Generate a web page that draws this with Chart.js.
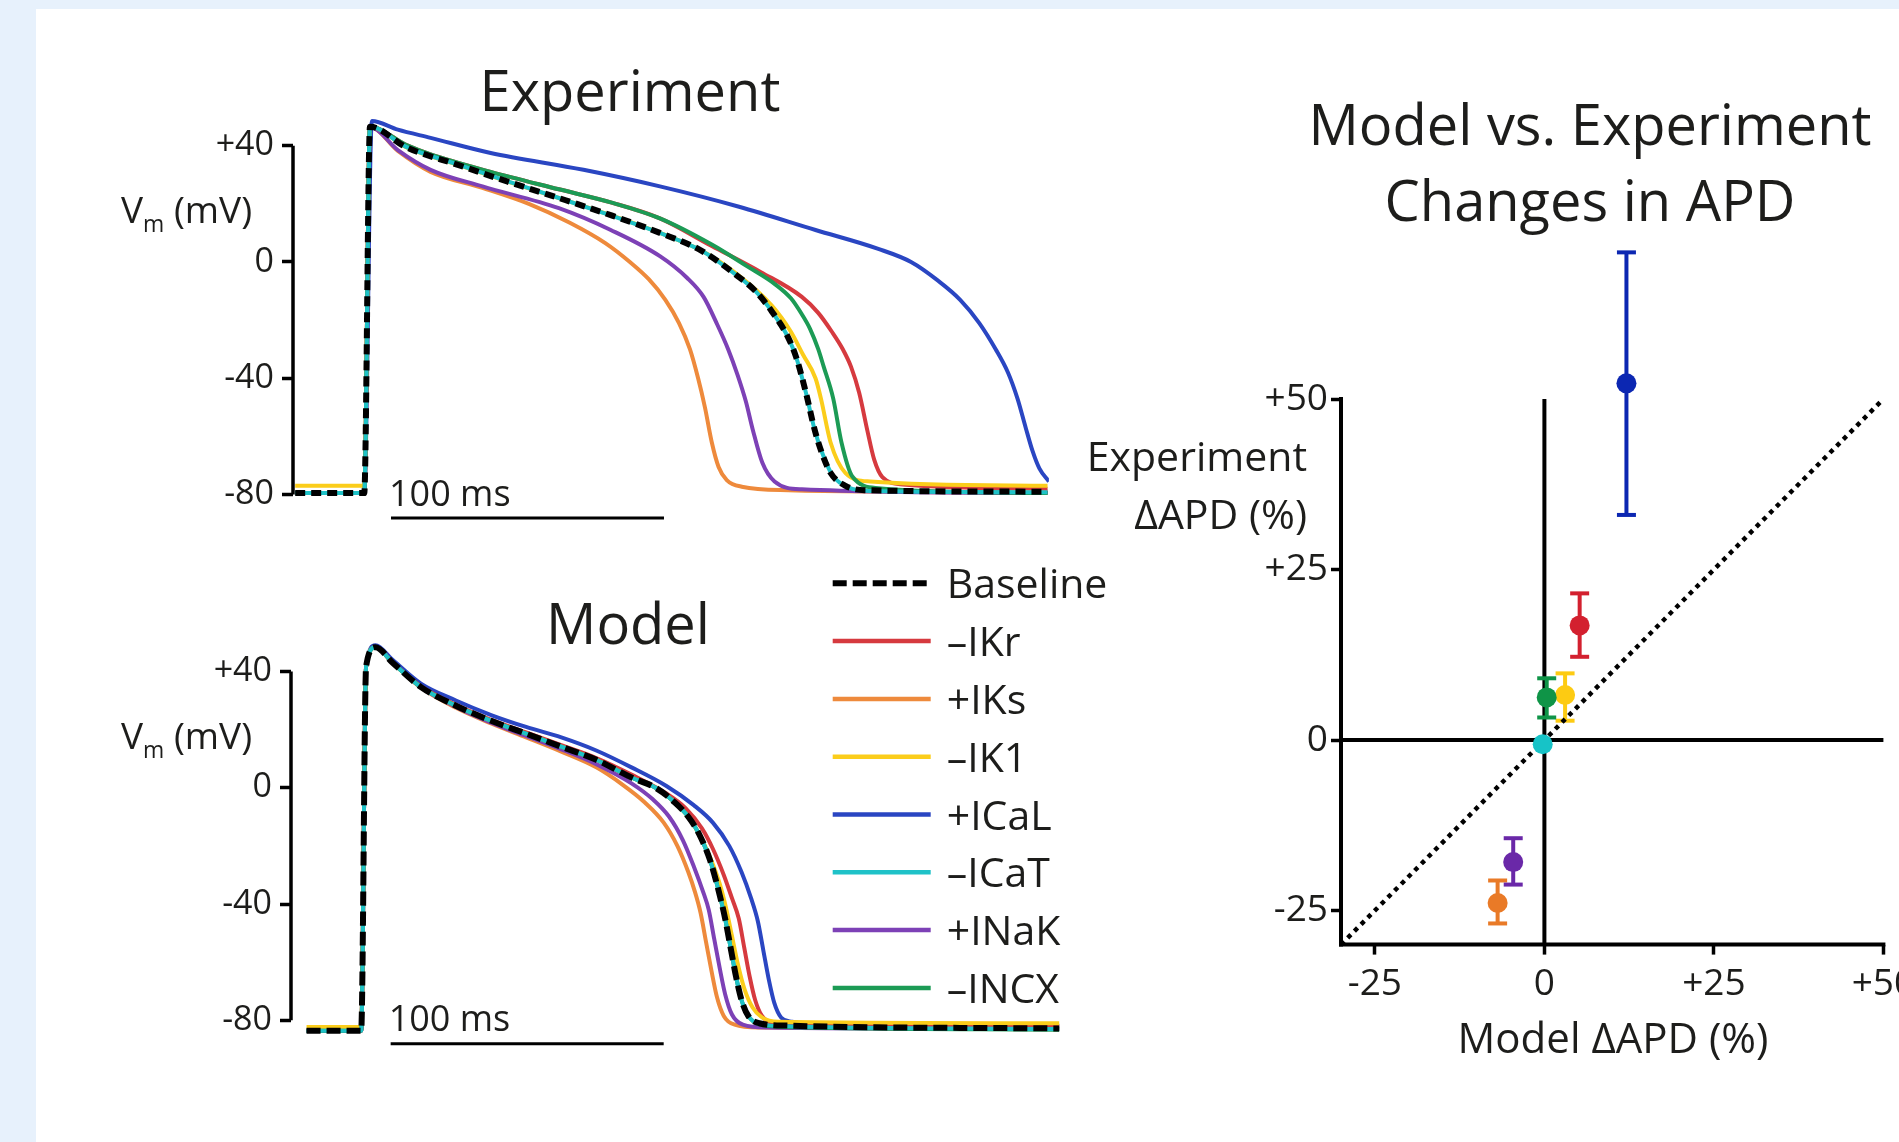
<!DOCTYPE html>
<html>
<head>
<meta charset="utf-8">
<script src="https://cdn.jsdelivr.net/npm/chart.js@4.4.0/dist/chart.umd.min.js"></script>
<style>
  html, body { margin: 0; padding: 0; width: 1899px; height: 1142px; overflow: hidden; background: #e7f1fc; }
  #panel { position: absolute; left: 36px; top: 9px; right: 0; bottom: 0; background: #fff; }
  canvas { position: absolute; }
  .lbl { position: absolute; white-space: nowrap; color: #1d1d1b; font-family: "Open Sans"; line-height: 1; }
  .sub { font-size: 0.62em; position: relative; top: 0.38em; }
</style>
</head>
<body>
<div id="panel"></div>
<canvas id="expChart" width="1100" height="560" style="left:0;top:0"></canvas>
<canvas id="modelChart" width="1150" height="540" style="left:0;top:560px"></canvas>
<canvas id="deltaChart" width="800" height="1142" style="left:1150px;top:0"></canvas>

<script>
// series (legend order)
const seriesNames = ['Baseline', '–IKr', '+IKs', '–IK1', '+ICaL', '–ICaT', '+INaK', '–INCX'];
const seriesColors = ['#000000', '#d63a3f', '#ee8a3c', '#fbcd1b', '#2a46c2', '#1fc2c8', '#7d41b6', '#1c9b55'];
const drawOrder = [0, 4, 6, 3, 7, 1, 5, 2];

// Experiment traces: [time ms from upstroke, Vm mV]
const expBaseline = [[-25.6,-79.5],[-0.3,-79.5],[1.8,46.5],[15,39.5],[34,33.4],[52,27.7],[71,22],[90,16.1],[108,10],[123,4],[136,-4.5],[143,-10],[149,-17],[155,-26],[158,-33],[161.5,-45],[164.5,-57],[166.7,-64],[170.5,-72.5],[176,-77],[183,-78.5],[250,-79]];
const expIKr = [[-25.6,-79.5],[-0.3,-79.5],[1.8,46.5],[15,40.3],[24,37],[46,31],[71,25],[90,20.5],[108,15],[127,5.5],[145,-3.5],[160,-12],[166,-17.5],[171,-24],[175,-30],[178,-36],[181,-45],[184,-58],[186.5,-68],[189.5,-74],[197,-76.5],[250,-78]];
const expIKs = [[-25.6,-79.5],[-0.3,-79.5],[1.8,46.5],[12,38.2],[24,31],[43,25.5],[60,20],[75,13.5],[88,6.5],[97,0],[104,-6],[110,-13],[115,-21],[119,-30],[122,-40],[124.5,-50],[127,-62],[129.5,-70.5],[132.5,-75],[138,-77.3],[155,-78.5],[250,-79.3]];
const expIK1 = [[-25.6,-77],[-0.3,-77],[1.8,46.5],[15,39.5],[34,33.4],[52,27.7],[71,22],[90,16.1],[108,10],[123,4],[136,-4],[149,-15],[156,-24],[160.5,-32],[165,-40],[167,-47],[170.5,-62],[176,-72.6],[185,-75.5],[250,-77]];
const expICaL = [[-25.6,-79.5],[-0.3,-79.5],[2.5,48.5],[12,45.5],[24,42.7],[46,37.5],[80,31.7],[108,26],[137,19],[165,11],[188,4.5],[200,0],[210,-6.5],[218,-13],[225,-21],[231,-30],[235.5,-38],[239,-47],[242,-57],[244.5,-65],[247,-71],[250.5,-75.5]];
const expICaT = [[-25.6,-79.5],[-0.3,-79.5],[1.8,46.5],[15,39.6],[34,33.5],[52,27.8],[71,22],[90,16],[108,10],[123,4],[136,-4.5],[143,-10],[149,-17],[155,-26],[158,-33],[161.5,-45],[164.5,-57],[167,-64.5],[171,-73],[177,-77.5],[185,-78.8],[250,-79.2]];
const expINaK = [[-25.6,-79.5],[-0.3,-79.5],[1.8,46.5],[12,38.5],[24,31.7],[43,26],[71,18.5],[90,11],[108,2],[118,-5.5],[124,-12],[129,-21.5],[133,-30],[136.5,-39],[139.5,-48],[142,-57.6],[145.5,-69],[150,-75.5],[160,-78.2],[250,-79.5]];
const expINCX = [[-25.6,-79.5],[-0.3,-79.5],[1.8,46.5],[15,40.3],[24,37],[46,31],[71,25],[90,20.5],[108,15],[127,6],[140,-1.5],[150,-7.5],[156,-12.5],[160,-18],[163,-23],[166,-30],[168,-36],[171.5,-47],[174.5,-62],[178.5,-73.8],[188,-77.8],[250,-79.5]];

// Model traces
const modelBaseline = [[-20.8,-83.6],[-0.8,-83.6],[1,41.6],[4.4,48.3],[10.8,42.9],[21.1,34.6],[33.9,28.2],[46.8,23],[59.6,18.6],[72.5,14.1],[85.3,9.6],[98.2,3.5],[107,0],[114,-5],[119,-10],[123,-16],[127,-25],[130,-35],[132.5,-45],[134.5,-55],[136.5,-65],[138.5,-73],[141,-78.5],[145,-81],[155,-81.8],[254.9,-82.8]];
const modelIKr = [[-20.8,-83.6],[-0.8,-83.6],[1,41.6],[4.4,48.3],[10.8,42.9],[21.1,34.8],[33.9,28.5],[46.8,23.3],[59.6,19],[72.5,14.6],[85.3,10.2],[98.2,4.5],[111,-2],[118,-7],[124,-14],[128,-21],[132,-30],[135,-38],[137.5,-45],[139.5,-55],[141.5,-65],[143.5,-73],[146,-78.5],[150,-81],[158,-81.6],[254.9,-82]];
const modelIKs = [[-20.8,-83.6],[-0.8,-83.6],[1,41.6],[4.4,48.3],[10.8,42.9],[21.1,34.4],[33.9,27.5],[46.8,22.1],[59.6,17.3],[72.5,12.4],[85.3,7],[95,1],[103,-5],[110,-12],[115,-20],[119,-29],[121.5,-36],[123.5,-43],[125.5,-53],[127.5,-63],[129.5,-72],[132,-78.5],[136,-81.5],[145,-82.5],[254.9,-82.8]];
const modelIK1 = [[-20.8,-82.3],[-0.8,-82.3],[1,41.6],[4.4,48.3],[10.8,42.9],[21.1,34.6],[33.9,28.2],[46.8,23],[59.6,18.6],[72.5,14.1],[85.3,9.6],[98.2,3.5],[107,0],[114,-5],[119,-10],[123,-16],[127,-24],[130.5,-33],[133,-42],[135,-51],[137,-60],[139.5,-69],[142.5,-75.5],[146,-79],[152,-80.5],[254.9,-81]];
const modelICaL = [[-20.8,-83.6],[-0.8,-83.6],[1,41.6],[4.4,49],[10.8,43.9],[21.1,35.8],[33.9,30],[46.8,25],[59.6,20.9],[72.5,17.3],[85.3,12.8],[98.2,7],[111,0.6],[121,-6],[128,-12],[134,-20],[138.5,-29],[142,-38],[144.5,-46],[146.5,-56],[148.5,-66],[150.5,-74],[153,-79],[157,-80.5],[165,-81],[254.9,-81.9]];
const modelICaT = [[-20.8,-83.6],[-0.8,-83.6],[1,41.6],[4.4,48.3],[10.8,42.9],[21.1,34.6],[33.9,28.2],[46.8,23],[59.6,18.6],[72.5,14.1],[85.3,9.6],[98.2,3.5],[107,0],[114,-5],[119,-10],[123,-16],[127,-25],[130,-35],[132.5,-45],[134.5,-55],[136.5,-65],[138.5,-73],[141,-78.5],[145,-81.2],[155,-82],[254.9,-83]];
const modelINaK = [[-20.8,-83.6],[-0.8,-83.6],[1,41.6],[4.4,48.3],[10.8,42.9],[21.1,34.5],[33.9,27.8],[46.8,22.4],[59.6,17.8],[72.5,13.2],[85.3,8.1],[98.2,1.5],[106,-4],[112,-10],[117,-18],[121,-27],[124.5,-36],[126.5,-42],[128.5,-52],[130.5,-62],[132.5,-71],[135,-78],[139,-81.5],[148,-82.5],[254.9,-83]];
const modelINCX = [[-20.8,-83.6],[-0.8,-83.6],[1,41.6],[4.4,48.3],[10.8,42.9],[21.1,34.6],[33.9,28.2],[46.8,23],[59.6,18.6],[72.5,14.1],[85.3,9.6],[98.2,3.5],[107,0],[114,-5],[119,-10],[123,-16],[127,-25],[130,-35],[132.5,-45],[134.5,-55],[136.5,-65],[138.5,-73],[141,-78.5],[145,-81.4],[155,-82.3],[254.9,-83.2]];

const vmTicks = [40, 0, -40, -80];
const scaleBarMs = 100;

// Model vs experiment APD change (%), order = seriesNames without Baseline
const deltaNames = seriesNames.slice(1);
const modelDelta = [5.2, -6.9, 3.05, 12.1, -0.25, -4.6, 0.34];
const expDelta = [16.8, -23.9, 6.6, 52.3, -0.63, -17.9, 6.25];
const expErrLow = [12.2, -26.9, 2.83, 33.0, -0.63, -21.2, 3.3];
const expErrHigh = [21.5, -20.6, 9.77, 71.5, -0.63, -14.4, 9.05];
const pointColors = ['#d3202f', '#e97a27', '#fdcb12', '#0c27b2', '#17c3c7', '#6a28a8', '#0f9447'];
const deltaTicks = [-25, 0, 25, 50];
const identityRange = [-30, 50];

Chart.defaults.font.family = '"Open Sans"';
Chart.defaults.color = '#1d1d1b';

function signed(v) { return v > 0 ? '+' + v : String(v); }

function addText(html, x, baseline, size, align) {
  const d = document.createElement('div');
  d.className = 'lbl';
  d.innerHTML = html;
  d.style.fontSize = size + 'px';
  d.style.left = x + 'px';
  d.style.top = (baseline - 0.888 * size) + 'px';
  if (align === 'center') d.style.transform = 'translateX(-50%)';
  if (align === 'right') d.style.transform = 'translateX(-100%)';
  document.body.appendChild(d);
}

function traceChart(id, traces, area, xRange, yRange, barStart, dash, extra) {
  const cv = document.getElementById(id);
  const yW = 100;
  const framePlugin = {
    id: 'frame',
    afterDraw(chart) {
      const { ctx, chartArea } = chart;
      const x = chart.scales.x, y = chart.scales.y;
      ctx.save();
      ctx.strokeStyle = '#000';
      ctx.lineWidth = 3.5;
      ctx.beginPath();
      ctx.moveTo(chartArea.left, y.getPixelForValue(vmTicks[0]));
      ctx.lineTo(chartArea.left, y.getPixelForValue(vmTicks[vmTicks.length - 1]));
      ctx.stroke();
      // 100 ms scale bar
      const yb = y.getPixelForValue(-80);
      ctx.lineWidth = 3;
      ctx.beginPath();
      ctx.moveTo(x.getPixelForValue(barStart), yb + 23.5);
      ctx.lineTo(x.getPixelForValue(barStart + scaleBarMs), yb + 23.5);
      ctx.stroke();
      ctx.fillStyle = '#1d1d1b';
      ctx.font = '36px "Open Sans"';
      ctx.textBaseline = 'alphabetic';
      ctx.fillText(scaleBarMs + ' ms', x.getPixelForValue(barStart) - 2, yb + 11);
      ctx.restore();
    }
  };
  return new Chart(cv, {
    type: 'line',
    data: {
      datasets: traces.map((pts, i) => ({
        label: seriesNames[i],
        data: pts.map(p => ({ x: p[0], y: p[1] })),
        borderColor: seriesColors[i],
        borderWidth: i === 0 ? 6 : 4,
        borderDash: i === 0 ? dash : [],
        borderJoinStyle: 'round',
        pointRadius: 0,
        cubicInterpolationMode: 'monotone',
        order: drawOrder[i],
        fill: false
      }))
    },
    options: {
      responsive: false,
      animation: false,
      events: [],
      layout: { padding: { left: area.left - yW, top: area.top, right: cv.width - area.right, bottom: cv.height - area.bottom } },
      scales: {
        x: { type: 'linear', min: xRange[0], max: xRange[1], display: false },
        y: {
          type: 'linear', min: yRange[0], max: yRange[1],
          afterFit: s => { s.width = yW; },
          afterBuildTicks: s => { s.ticks = vmTicks.map(v => ({ value: v })); },
          border: { display: false },
          grid: { drawOnChartArea: false, drawTicks: true, tickLength: 11, tickWidth: 3.5, tickColor: '#000', color: '#000' },
          ticks: { font: { size: 34 }, color: '#1d1d1b', padding: 8, callback: v => signed(v) }
        }
      },
      plugins: { legend: { display: false }, tooltip: { enabled: false } }
    },
    plugins: [framePlugin].concat(extra || [])
  });
}

const legendPlugin = {
  id: 'legendRows',
  afterDraw(chart) {
    const ctx = chart.ctx;
    ctx.save();
    seriesNames.forEach((name, i) => {
      const yRow = 23.3 + i * 57.8;
      ctx.strokeStyle = seriesColors[i];
      ctx.lineWidth = i === 0 ? 6 : 4.5;
      ctx.setLineDash(i === 0 ? [14, 6] : []);
      ctx.beginPath();
      ctx.moveTo(832.7, yRow);
      ctx.lineTo(930.7, yRow);
      ctx.stroke();
      ctx.fillStyle = '#1d1d1b';
      ctx.font = '41px "Open Sans"';
      ctx.textBaseline = 'alphabetic';
      ctx.fillText(name, 946.7, yRow + 15);
    });
    ctx.restore();
  }
};

const deltaPlugin = {
  id: 'deltaAxes',
  beforeDatasetsDraw(chart) {
    const { ctx } = chart;
    const x = chart.scales.x, y = chart.scales.y;
    const px = v => x.getPixelForValue(v), py = v => y.getPixelForValue(v);
    const lo = identityRange[0], hi = identityRange[1];
    function seg(x1, y1, x2, y2) { ctx.beginPath(); ctx.moveTo(x1, y1); ctx.lineTo(x2, y2); ctx.stroke(); }
    ctx.save();
    ctx.strokeStyle = '#000';
    ctx.lineWidth = 4;
    ctx.lineCap = 'square';
    seg(px(lo), py(hi), px(lo), py(lo));
    seg(px(lo), py(lo), px(hi), py(lo));
    ctx.lineCap = 'butt';
    seg(px(0), py(hi), px(0), py(lo));
    seg(px(lo), py(0), px(hi), py(0));
    // error bars (none drawn where no SEM is shown)
    modelDelta.forEach((m, i) => {
      if (expErrHigh[i] === expErrLow[i]) return;
      ctx.strokeStyle = pointColors[i];
      ctx.lineWidth = 4;
      const cx = px(m);
      seg(cx, py(expErrLow[i]), cx, py(expErrHigh[i]));
      seg(cx - 9.5, py(expErrLow[i]), cx + 9.5, py(expErrLow[i]));
      seg(cx - 9.5, py(expErrHigh[i]), cx + 9.5, py(expErrHigh[i]));
    });
    ctx.restore();
  }
};

function deltaChart() {
  const cv = document.getElementById('deltaChart');
  const area = { left: 191, right: 733.4, top: 228.5, bottom: 944.6 };
  const yW = 80, xH = 80;
  const axisCommon = {
    type: 'linear',
    border: { display: false },
    grid: { drawOnChartArea: false, drawTicks: true, tickLength: 10, tickWidth: 3.5, tickColor: '#000', color: '#000' },
  };
  return new Chart(cv, {
    type: 'scatter',
    data: {
      datasets: [
        {
          label: 'APD change',
          data: modelDelta.map((m, i) => ({ x: m, y: expDelta[i] })),
          pointRadius: 10,
          pointBackgroundColor: pointColors,
          pointBorderWidth: 0,
          clip: false,
          order: 0
        },
        {
          label: 'identity',
          data: identityRange.map(v => ({ x: v, y: v })),
          showLine: true,
          borderColor: '#000',
          borderWidth: 4.5,
          borderDash: [4.5, 5],
          pointRadius: 0,
          clip: false,
          order: 1
        }
      ]
    },
    options: {
      responsive: false,
      animation: false,
      events: [],
      layout: { padding: { left: area.left - yW, top: area.top, right: cv.width - area.right, bottom: cv.height - area.bottom - xH } },
      scales: {
        x: Object.assign({}, axisCommon, {
          min: -30, max: 50,
          afterFit: s => { s.height = xH; },
          afterBuildTicks: s => { s.ticks = deltaTicks.map(v => ({ value: v })); },
          ticks: { font: { size: 37 }, color: '#1d1d1b', padding: 8, maxRotation: 0, autoSkip: false, callback: v => signed(v) }
        }),
        y: Object.assign({}, axisCommon, {
          min: -30, max: 75,
          afterFit: s => { s.width = yW; },
          afterBuildTicks: s => { s.ticks = deltaTicks.map(v => ({ value: v })); },
          ticks: { font: { size: 37 }, color: '#1d1d1b', padding: 3, callback: v => signed(v) }
        })
      },
      plugins: { legend: { display: false }, tooltip: { enabled: false } }
    },
    plugins: [deltaPlugin]
  });
}

function build() {
  traceChart('expChart',
    [expBaseline, expIKr, expIKs, expIK1, expICaL, expICaT, expINaK, expINCX],
    { left: 293, right: 1048.9, top: 110.8, bottom: 506.2 },
    [-26.4, 250.5], [-84, 52], 9.5, [10, 6]);

  traceChart('modelChart',
    [modelBaseline, modelIKr, modelIKs, modelIK1, modelICaL, modelICaT, modelINaK, modelINCX],
    { left: 291, right: 1059.6, top: 76.5, bottom: 483.6 },
    [-26.5, 255], [-88, 52], 10, [14, 6], [legendPlugin]);

  deltaChart();

  addText('Experiment', 630, 111, 56, 'center');
  addText('Model', 628, 644, 56, 'center');
  addText('V<span class="sub">m</span> (mV)', 121, 223, 37, 'left');
  addText('V<span class="sub">m</span> (mV)', 121, 749, 37, 'left');
  addText('Model vs. Experiment', 1590, 145, 56, 'center');
  addText('Changes in APD', 1590, 221, 56, 'center');
  addText('Experiment', 1307, 471.6, 41, 'right');
  addText('ΔAPD (%)', 1307, 529, 41, 'right');
  addText('Model ΔAPD (%)', 1613, 1053, 42, 'center');
}

document.fonts.load('36px "Open Sans"').then(build, build);
</script>
</body>
</html>
